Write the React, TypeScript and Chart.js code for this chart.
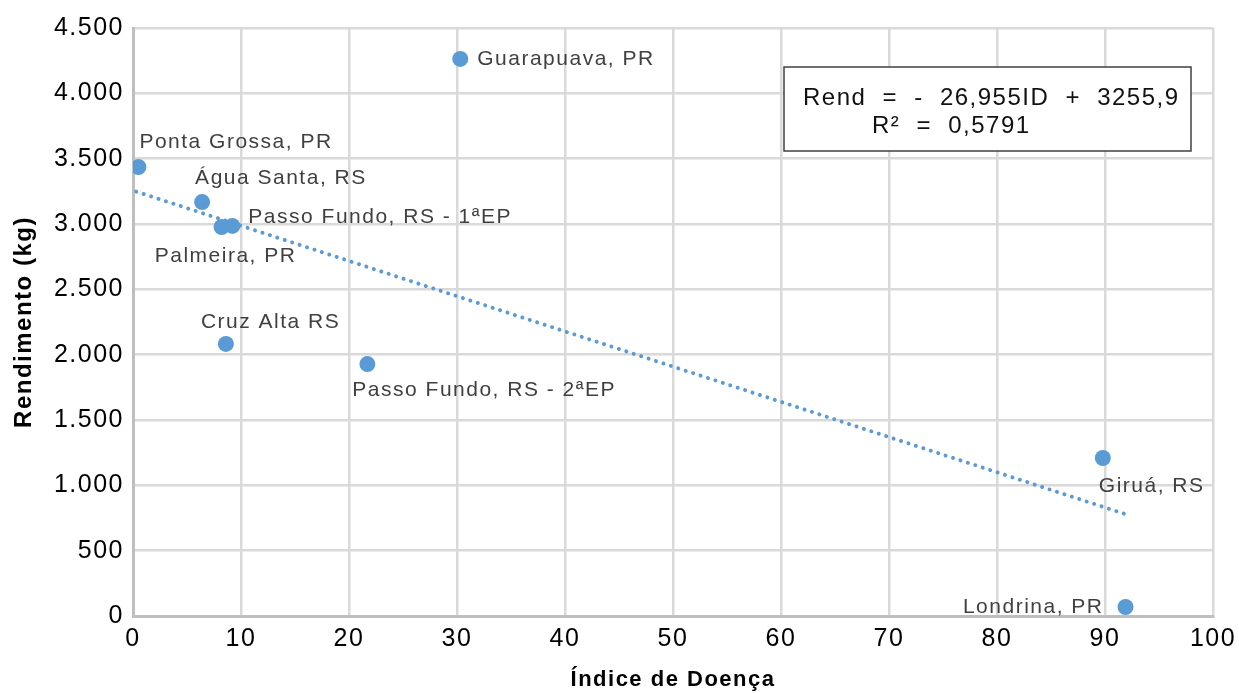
import React, { useEffect, useRef } from "react";
import { Chart, registerables } from "chart.js";

Chart.register(...registerables);

// ---- data ----
const locais: string[] = [
  "Ponta Grossa, PR",
  "Água Santa, RS",
  "Palmeira, PR",
  "Passo Fundo, RS - 1ªEP",
  "Cruz Alta RS",
  "Passo Fundo, RS - 2ªEP",
  "Guarapuava, PR",
  "Giruá, RS",
  "Londrina, PR",
];
const indiceDoenca: number[] = [0.5, 6.4, 8.2, 9.2, 8.6, 21.7, 30.3, 89.8, 91.9];
const rendimento: number[] = [3436, 3168, 2977, 2985, 2082, 1928, 4263, 1209, 69];

const trendX: number[] = [0.3, 91.9];
const trendY: number[] = [3248, 779];

const equacaoLinha1 = "Rend = - 26,955ID + 3255,9";
const equacaoLinha2 = "R² = 0,5791";

const xTitle = "Índice de Doença";
const yTitle = "Rendimento (kg)";

// ---- label placement (relative to the point) ----
const labelPlacement: { align: CanvasTextAlign; dx: number; dy: number }[] = [
  { align: "left", dx: 1, dy: -25 },
  { align: "left", dx: -7, dy: -24 },
  { align: "center", dx: 4, dy: 29 },
  { align: "left", dx: 16, dy: -9 },
  { align: "left", dx: -25, dy: -22 },
  { align: "left", dx: -15, dy: 26 },
  { align: "left", dx: 17, dy: 0 },
  { align: "left", dx: -4, dy: 28 },
  { align: "right", dx: -22, dy: 0 },
];

const FONT = "'Liberation Sans', Arial, Helvetica, sans-serif";
const BLUE = "#5b9bd5";

const setSpacing = (chart: any) => {
  const ctx = chart.ctx as any;
  if (ctx) ctx.letterSpacing = "1.5px";
};

const spacingPlugin = {
  id: "spacing",
  beforeInit: setSpacing,
  beforeUpdate: setSpacing,
  beforeLayout: setSpacing,
  beforeDraw: setSpacing,
};

const labelsPlugin = {
  id: "pointLabels",
  afterDatasetsDraw(chart: any) {
    const ctx = chart.ctx as any;
    const meta = chart.getDatasetMeta(0);
    ctx.save();
    ctx.letterSpacing = "1.5px";
    ctx.font = `21px ${FONT}`;
    ctx.fillStyle = "#404040";
    ctx.textBaseline = "middle";
    meta.data.forEach((pt: any, i: number) => {
      const p = labelPlacement[i];
      ctx.textAlign = p.align;
      ctx.fillText(locais[i], pt.x + p.dx, pt.y + p.dy);
    });
    ctx.restore();
  },
};

const equationPlugin = {
  id: "equationBox",
  afterDraw(chart: any) {
    const ctx = chart.ctx as any;
    const a = chart.chartArea;
    const left = a.left + 651;
    const top = a.top + 39;
    const w = 407;
    const h = 84;
    ctx.save();
    ctx.fillStyle = "#ffffff";
    ctx.fillRect(left, top, w, h);
    ctx.strokeStyle = "#404040";
    ctx.lineWidth = 1.5;
    ctx.strokeRect(left, top, w, h);
    ctx.fillStyle = "#111111";
    ctx.font = `24px ${FONT}`;
    ctx.letterSpacing = "1.5px";
    ctx.wordSpacing = "8px";
    ctx.textAlign = "left";
    ctx.textBaseline = "alphabetic";
    ctx.fillText(equacaoLinha1, left + 19, top + 38);
    ctx.fillText(equacaoLinha2, left + 88, top + 66);
    ctx.restore();
  },
};

const fmt = (v: number) => String(v).replace(/\B(?=(\d{3})+(?!\d))/g, ".");

export default function App() {
  const ref = useRef<HTMLCanvasElement | null>(null);

  useEffect(() => {
    if (!ref.current) return;
    Chart.defaults.font.family = FONT;
    const chart = new Chart(ref.current, {
      type: "scatter",
      data: {
        datasets: [
          {
            type: "scatter",
            data: indiceDoenca.map((x, i) => ({ x, y: rendimento[i] })),
            backgroundColor: BLUE,
            borderWidth: 0,
            pointRadius: 8,
            pointHoverRadius: 8,
          },
          {
            type: "line",
            data: trendX.map((x, i) => ({ x, y: trendY[i] })),
            borderColor: BLUE,
            borderWidth: 4,
            borderDash: [0.01, 7.8],
            borderCapStyle: "round",
            pointRadius: 0,
            fill: false,
            showLine: true,
          } as any,
        ],
      },
      options: {
        animation: false,
        responsive: true,
        maintainAspectRatio: false,
        layout: { padding: { top: 28, right: 26, bottom: 0, left: 0 } },
        plugins: {
          legend: { display: false },
          tooltip: { enabled: false },
        },
        scales: {
          x: {
            type: "linear",
            min: 0,
            max: 100,
            afterFit: (s: any) => {
              s.height = 77;
              s.paddingLeft = 0;
              s.paddingRight = 0;
            },
            ticks: {
              stepSize: 10,
              color: "#000",
              font: { size: 25 },
              padding: 8,
            },
            grid: { color: "#d9d9d9", lineWidth: 2.5, drawTicks: false },
            border: { color: "#bfbfbf", width: 3 },
            title: {
              display: true,
              text: xTitle,
              color: "#000",
              font: { size: 22, weight: "bold" },
              padding: { top: 0, bottom: 0 },
            },
          },
          y: {
            type: "linear",
            min: 0,
            max: 4500,
            afterFit: (s: any) => {
              s.width = 133;
              s.paddingTop = 0;
              s.paddingBottom = 0;
            },
            ticks: {
              stepSize: 500,
              color: "#000",
              font: { size: 25 },
              padding: 9,
              callback: (v: any) => fmt(Number(v)),
            },
            grid: { color: "#d9d9d9", lineWidth: 2.5, drawTicks: false },
            border: { color: "#bfbfbf", width: 3 },
            title: {
              display: true,
              text: yTitle,
              color: "#000",
              font: { size: 24, weight: "bold" },
              padding: { top: 10, bottom: 0 },
            },
          },
        },
      },
      plugins: [spacingPlugin, labelsPlugin, equationPlugin],
    });
    return () => chart.destroy();
  }, []);

  return (
    <div style={{ position: "fixed", left: 0, top: 0, width: 1239, height: 693, background: "#fff" }}>
      <canvas ref={ref} />
    </div>
  );
}
